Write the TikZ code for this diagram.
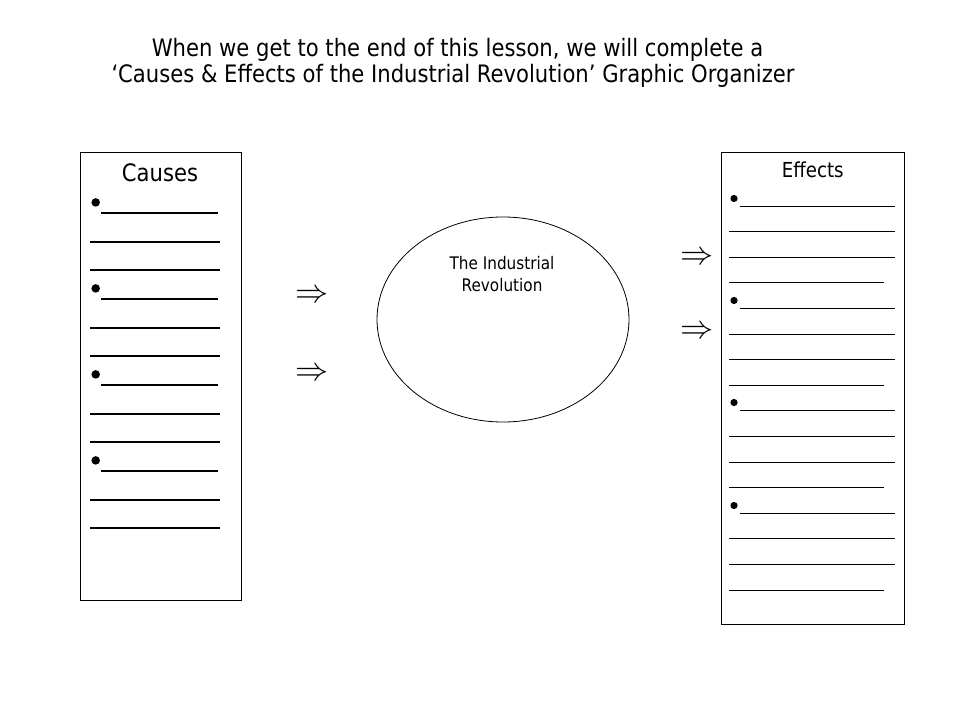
\documentclass[tikz,border=0pt]{standalone}
\usepackage{fontspec}
\setmainfont{DejaVu Sans}[FakeStretch=0.88]
\usetikzlibrary{shapes.geometric}
\begin{document}
\begin{tikzpicture}[x=0.75pt,y=-0.75pt,
  panel/.style={draw,line width=0.75pt,inner sep=0pt,anchor=north west},
  lbl/.style={inner sep=0pt,anchor=base},
  cline/.style={line width=1.5pt},
  eline/.style={line width=0.75pt},
  arr/.style={inner sep=0pt,font=\fontsize{28}{28}\selectfont}]
\useasboundingbox (0,0) rectangle (960,720);
% title
\node[lbl,font=\fontsize{18}{18}\selectfont] (t1) at (457.5,56.7) {When we get to the end of this lesson, we will complete a};
\node[lbl,font=\fontsize{18}{18}\selectfont] (t2) at (453,83) {‘Causes \& Effects of the Industrial Revolution’ Graphic Organizer};
% causes panel
\node[panel,minimum width=120.75pt,minimum height=335.6pt] (cbox) at (80,152.5) {};
\node[lbl,font=\fontsize{18}{18}\selectfont] (ctitle) at (160,181.7) {Causes};
\foreach \k in {0,...,11}{
  \pgfmathtruncatemacro{\yi}{212.3+28.7*\k}
  \pgfmathtruncatemacro{\m}{mod(\k,3)}
  \ifnum\m=0
    \draw[cline] (101,\yi+1) -- (218,\yi+1);
    \fill (95.7,\yi-9.6) circle[radius=3.2pt];
  \else
    \draw[cline] (90,\yi+1) -- (220,\yi+1);
  \fi
}
% effects panel
\node[panel,minimum width=137.85pt,minimum height=353.85pt] (ebox) at (720.5,152.5) {};
\node[lbl,font=\fontsize{15.5}{15.5}\selectfont] (etitle) at (812.7,177.7) {Effects};
\foreach \k in {0,...,15}{
  \pgfmathtruncatemacro{\yi}{206+25.6*\k}
  \pgfmathtruncatemacro{\m}{mod(\k,4)}
  \ifnum\m=0
    \draw[eline] (740,\yi+0.5) -- (894.7,\yi+0.5);
    \fill (734,\yi-7.5) circle[radius=2.7pt];
  \else\ifnum\m=3
    \draw[eline] (729.3,\yi+0.5) -- (884.3,\yi+0.5);
  \else
    \draw[eline] (729.3,\yi+0.5) -- (894.7,\yi+0.5);
  \fi\fi
}
% ellipse
\node[ellipse,draw,line width=0.6pt,minimum width=189pt,minimum height=153.75pt,inner sep=0pt] (rev) at (503,319.5) {};
\node[lbl,font=\fontsize{13}{13}\selectfont] (r1) at (502,270) {The Industrial};
\node[lbl,font=\fontsize{13}{13}\selectfont] (r2) at (502,291.7) {Revolution};
% arrows
\node[arr] (a1) at (312.5,296.7) {$\Rightarrow$};
\node[arr] (a2) at (312.5,374) {$\Rightarrow$};
\node[arr] (a3) at (697.5,258.3) {$\Rightarrow$};
\node[arr] (a4) at (697.5,332.3) {$\Rightarrow$};
\end{tikzpicture}
\end{document}
